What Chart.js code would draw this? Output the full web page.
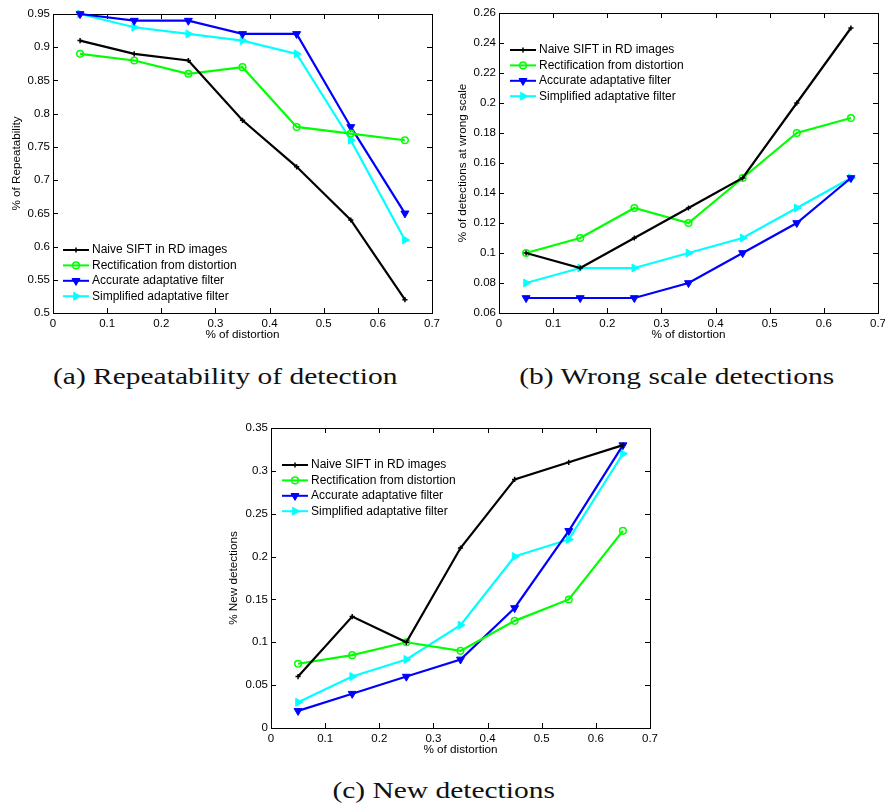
<!DOCTYPE html>
<html><head><meta charset="utf-8">
<script src="https://cdn.jsdelivr.net/npm/chart.js@4.4.0/dist/chart.umd.min.js"></script>
<style>
body{margin:0;background:#fff;width:885px;height:803px;position:relative;overflow:hidden;font-family:"Liberation Sans",Arial,sans-serif}
.box{position:absolute}
.cap{position:absolute;font-family:"Liberation Serif","Times New Roman",serif;font-size:24px;color:#111;white-space:nowrap;line-height:1;top:0;left:0}
</style></head><body>
<div class="box" style="left:0;top:0;width:445px;height:340px"><canvas id="ca" width="445" height="340"></canvas></div>
<div class="box" style="left:440px;top:0;width:445px;height:340px"><canvas id="cb" width="445" height="340"></canvas></div>
<div class="box" style="left:220px;top:415px;width:445px;height:340px"><canvas id="cc" width="445" height="340"></canvas></div>
<div class="cap" id="capA">(a) Repeatability of detection</div>
<div class="cap" id="capB">(b) Wrong scale detections</div>
<div class="cap" id="capC">(c) New detections</div>
<script>
// ---- data ----
const distortion = [0.05, 0.15, 0.25, 0.35, 0.45, 0.55, 0.65];
const seriesNames = ['Naive SIFT in RD images', 'Rectification from distortion', 'Accurate adaptative filter', 'Simplified adaptative filter'];

const repNaive      = [0.91, 0.89, 0.88, 0.79, 0.72, 0.64, 0.52];
const repRectified  = [0.89, 0.88, 0.86, 0.87, 0.78, 0.77, 0.76];
const repAccurate   = [0.95, 0.94, 0.94, 0.92, 0.92, 0.78, 0.65];
const repSimplified = [0.95, 0.93, 0.92, 0.91, 0.89, 0.76, 0.61];

const wrongNaive      = [0.10, 0.09, 0.11, 0.13, 0.15, 0.20, 0.25];
const wrongRectified  = [0.10, 0.11, 0.13, 0.12, 0.15, 0.18, 0.19];
const wrongAccurate   = [0.07, 0.07, 0.07, 0.08, 0.10, 0.12, 0.15];
const wrongSimplified = [0.08, 0.09, 0.09, 0.10, 0.11, 0.13, 0.15];

const newNaive      = [0.06, 0.13, 0.10, 0.21, 0.29, 0.31, 0.33];
const newRectified  = [0.075, 0.085, 0.10, 0.09, 0.125, 0.15, 0.23];
const newAccurate   = [0.02, 0.04, 0.06, 0.08, 0.14, 0.23, 0.33];
const newSimplified = [0.03, 0.06, 0.08, 0.12, 0.20, 0.22, 0.32];

const xTickValues   = [0, 0.1, 0.2, 0.3, 0.4, 0.5, 0.6, 0.7];
const yTicksRep     = [0.5, 0.55, 0.6, 0.65, 0.7, 0.75, 0.8, 0.85, 0.9, 0.95];
const yTicksWrong   = [0.06, 0.08, 0.1, 0.12, 0.14, 0.16, 0.18, 0.2, 0.22, 0.24, 0.26];
const yTicksNew     = [0, 0.05, 0.1, 0.15, 0.2, 0.25, 0.3, 0.35];

// ---- styles ----
const seriesStyles = [
  {color:'#000000', pointStyle:'cross',    radius:2.6, rotation:0,   filled:false, bw:1.5},
  {color:'#00ff00', pointStyle:'circle',   radius:3.3, rotation:0,   filled:false, bw:1.5},
  {color:'#0000ff', pointStyle:'triangle', radius:4.6, rotation:180, filled:true,  bw:1},
  {color:'#00ffff', pointStyle:'triangle', radius:4.6, rotation:90,  filled:true,  bw:1}
];
const FONT = '"Liberation Sans", Arial, sans-serif';
const fmt = v => String(Number(v.toFixed(3)));

const frameAndLegend = {
  id: 'frameAndLegend',
  beforeDatasetsDraw(chart) {
    const {ctx, chartArea: a, scales} = chart;
    ctx.save();
    ctx.strokeStyle = '#000'; ctx.lineWidth = 1;
    ctx.strokeRect(Math.round(a.left)+0.5, Math.round(a.top)+0.5, Math.round(a.right-a.left), Math.round(a.bottom-a.top));
    const L = 5;
    ctx.beginPath();
    scales.x.ticks.forEach(t => {
      const px = Math.round(scales.x.getPixelForValue(t.value)) + 0.5;
      ctx.moveTo(px, a.bottom); ctx.lineTo(px, a.bottom - L);
      ctx.moveTo(px, a.top); ctx.lineTo(px, a.top + L);
    });
    scales.y.ticks.forEach(t => {
      const py = Math.round(scales.y.getPixelForValue(t.value)) + 0.5;
      ctx.moveTo(a.left, py); ctx.lineTo(a.left + L, py);
      ctx.moveTo(a.right, py); ctx.lineTo(a.right - L, py);
    });
    ctx.stroke();
    ctx.restore();
  },
  afterDraw(chart, args, opts) {
    const {ctx, chartArea: a} = chart;
    ctx.save();
    ctx.font = '12px ' + FONT;
    ctx.textBaseline = 'middle';
    chart.data.datasets.forEach((ds, i) => {
      const st = seriesStyles[i];
      const y = a.top + opts.dy + i * opts.row;
      const x0 = a.left + opts.dx, x1 = x0 + 26;
      ctx.strokeStyle = st.color; ctx.lineWidth = 2;
      ctx.beginPath(); ctx.moveTo(x0, y); ctx.lineTo(x1, y); ctx.stroke();
      ctx.fillStyle = st.filled ? st.color : 'rgba(0,0,0,0)';
      ctx.lineWidth = st.bw;
      Chart.helpers.drawPoint(ctx, {pointStyle: st.pointStyle, rotation: st.rotation, radius: st.radius, borderWidth: st.bw}, (x0 + x1) / 2, y);
      ctx.fillStyle = '#000';
      ctx.fillText(ds.label, x1 + 3, y);
    });
    ctx.restore();
  }
};

function makeChart(id, series, yTicks, yTitle, cfg) {
  const datasets = series.map((vals, i) => {
    const st = seriesStyles[i];
    return {
      label: seriesNames[i],
      data: distortion.map((x, k) => ({x: x, y: vals[k]})),
      borderColor: st.color, borderWidth: 2.2,
      backgroundColor: st.color,
      pointStyle: st.pointStyle, pointRadius: st.radius, pointRotation: st.rotation,
      pointBorderColor: st.color, pointBorderWidth: st.bw,
      pointBackgroundColor: st.filled ? st.color : 'rgba(0,0,0,0)',
      fill: false, tension: 0, clip: false
    };
  });
  return new Chart(document.getElementById(id), {
    type: 'line',
    data: {datasets},
    options: {
      responsive: false, animation: false, devicePixelRatio: 1,
      layout: {padding: {top: cfg.top, right: cfg.right, left: 0, bottom: 0}},
      plugins: {legend: {display: false}, tooltip: {enabled: false},
        frameAndLegend: {dx: cfg.lx, dy: cfg.ly, row: 15.4}},
      scales: {
        x: {
          type: 'linear', min: 0, max: 0.7,
          grid: {display: false, drawTicks: false}, border: {display: false},
          afterBuildTicks: s => { s.ticks = xTickValues.map(v => ({value: v})); },
          ticks: {font: {family: FONT, size: 11.5}, color: '#000', padding: 4, maxRotation: 0, autoSkip: false, callback: v => fmt(v)},
          title: {display: true, text: '% of distortion', font: {family: FONT, size: 11.7}, color: '#000', padding: {top: 0, bottom: -2}},
          afterFit: s => { s.height = 27; s.paddingLeft = 0; s.paddingRight = 0; }
        },
        y: {
          type: 'linear', min: yTicks[0], max: yTicks[yTicks.length - 1],
          grid: {display: false, drawTicks: false}, border: {display: false},
          afterBuildTicks: s => { s.ticks = yTicks.map(v => ({value: v})); },
          ticks: {font: {family: FONT, size: 11.5}, color: '#000', padding: 3, autoSkip: false, callback: v => fmt(v)},
          title: {display: true, text: yTitle, font: {family: FONT, size: 11.7}, color: '#000', padding: {top: cfg.tpad, bottom: 0}},
          afterFit: s => { s.width = cfg.yw; s.paddingTop = 0; s.paddingBottom = 0; }
        }
      }
    },
    plugins: [frameAndLegend]
  });
}

makeChart('ca', [repNaive, repRectified, repAccurate, repSimplified], yTicksRep, '% of Repeatability',
  {top: 14, right: 13, yw: 53, tpad: 10, lx: 10, ly: 236});
makeChart('cb', [wrongNaive, wrongRectified, wrongAccurate, wrongSimplified], yTicksWrong, '% of detections at wrong scale',
  {top: 13, right: 7, yw: 59, tpad: 16, lx: 11, ly: 37});
makeChart('cc', [newNaive, newRectified, newAccurate, newSimplified], yTicksNew, '% New detections',
  {top: 13, right: 15, yw: 51, tpad: 7, lx: 11, ly: 37});

// captions
const capA = document.getElementById('capA');
const scaleX = 345 / capA.offsetWidth;
[['capA', 225.5, 376], ['capB', 677, 376], ['capC', 443.5, 790]].forEach(([id, cx, cy]) => {
  const el = document.getElementById(id);
  const w = el.offsetWidth, h = el.offsetHeight;
  el.style.transformOrigin = '0 0';
  el.style.transform = `translate(${cx - w * scaleX / 2}px, ${cy - h / 2}px) scaleX(${scaleX})`;
});
</script>
</body></html>
